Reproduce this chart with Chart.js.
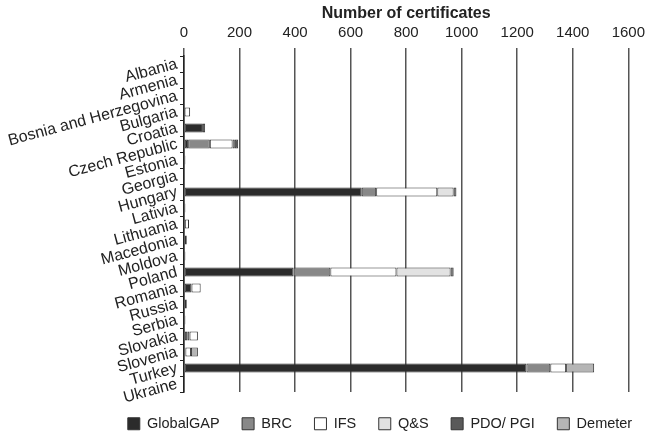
<!DOCTYPE html>
<html>
<head>
<meta charset="utf-8">
<script src="https://cdn.jsdelivr.net/npm/chart.js@4"></script>
<style>
html,body{margin:0;padding:0;background:#fff;}
#wrap{width:651px;height:432px;position:relative;}
</style>
</head>
<body>
<div id="wrap"><canvas id="c"></canvas></div>
<script>
const categories = ["Albania","Armenia","Bosnia and Herzegovina","Bulgaria","Croatia","Czech Republic","Estonia","Georgia","Hungary","Lativia","Lithuania","Macedonia","Moldova","Poland","Romania","Russia","Serbia","Slovakia","Slovenia","Turkey","Ukraine"];
const globalGAP = [0,0,0,2,68,15,5,0,640,5,3,10,5,394,27,10,5,12,5,1233,0];
const brc       = [0,0,0,0,0,78,0,0,52,0,0,0,0,133,0,0,0,8,0,86,0];
const ifs       = [0,0,0,20,0,82,0,0,220,0,15,0,0,238,33,0,0,30,20,57,0];
const qs        = [0,0,0,0,8,8,0,0,59,0,0,0,0,195,0,0,0,0,0,0,0];
const pdoPgi    = [0,0,0,0,0,12,0,0,10,0,0,0,0,11,0,0,0,0,0,0,0];
const demeter   = [0,0,0,0,0,0,0,0,0,0,0,0,0,0,0,0,0,0,25,101,0];
const seriesNames = ["GlobalGAP","BRC","IFS","Q&S","PDO/ PGI","Demeter"];
const xTicks = [0,200,400,600,800,1000,1200,1400,1600];

const colors = ["#2b2b2b","#888888","#ffffff","#e2e2e2","#5a5a5a","#b5b5b5"];
const seriesData = [globalGAP, brc, ifs, qs, pdoPgi, demeter];

Chart.defaults.font.family = "'Liberation Sans', Arial, sans-serif";
Chart.defaults.color = "#222";

const legendPlace = {
  id: 'legendPlace',
  beforeLayout(chart) {
    const lg = chart.legend;
    if (lg && !lg._patched) {
      const orig = lg.fit;
      lg.fit = function () { orig.call(this); this.height = 40; };
      lg._patched = true;
    }
  },
  afterLayout(chart) {
    const lg = chart.legend;
    if (lg) { lg.left += 62; lg.right += 62; lg.top += 2; lg.bottom += 2; }
  }
};

new Chart(document.getElementById('c'), {
  type: 'bar',
  data: {
    labels: categories,
    datasets: seriesNames.map((n, i) => ({
      label: n,
      data: seriesData[i],
      backgroundColor: colors[i],
      borderColor: '#333',
      borderWidth: 1,
      borderSkipped: false,
      barPercentage: 0.55,
      categoryPercentage: 1.0
    }))
  },
  options: {
    indexAxis: 'y',
    responsive: true,
    maintainAspectRatio: false,
    animation: false,
    layout: { padding: { left: 4, right: 19, top: 2, bottom: 0 } },
    scales: {
      x: {
        position: 'top',
        stacked: true,
        min: 0, max: 1600,
        afterBuildTicks: (axis) => { axis.ticks = xTicks.map(v => ({ value: v })); },
        afterFit: (s) => { s.height = 54; },
        ticks: { font: { size: 15 }, color: '#222', padding: 6, callback: (v) => String(v) },
        grid: { color: '#555', lineWidth: 1.5, tickLength: 8, drawTicks: true },
        border: { display: false },
        title: { display: true, text: 'Number of certificates', font: { size: 16, weight: 'bold' }, color: '#222', padding: { top: 2, bottom: 0 } }
      },
      y: {
        stacked: true,
        afterFit: (s) => { s.width = 180; s.paddingTop = 0; s.paddingBottom = 0; },
        ticks: { font: { size: 16 }, color: '#222', minRotation: 15, maxRotation: 15, padding: 3, autoSkip: false },
        grid: { drawOnChartArea: false, tickLength: 4, color: '#222', offset: true },
        border: { display: true, color: '#222', width: 1.5 }
      }
    },
    plugins: {
      legend: {
        position: 'bottom',
        labels: { boxWidth: 12, boxHeight: 12, font: { size: 14.5 }, color: '#222', padding: 22.5 }
      },
      tooltip: { enabled: false }
    }
  },
  plugins: [legendPlace]
});
</script>
</body>
</html>
